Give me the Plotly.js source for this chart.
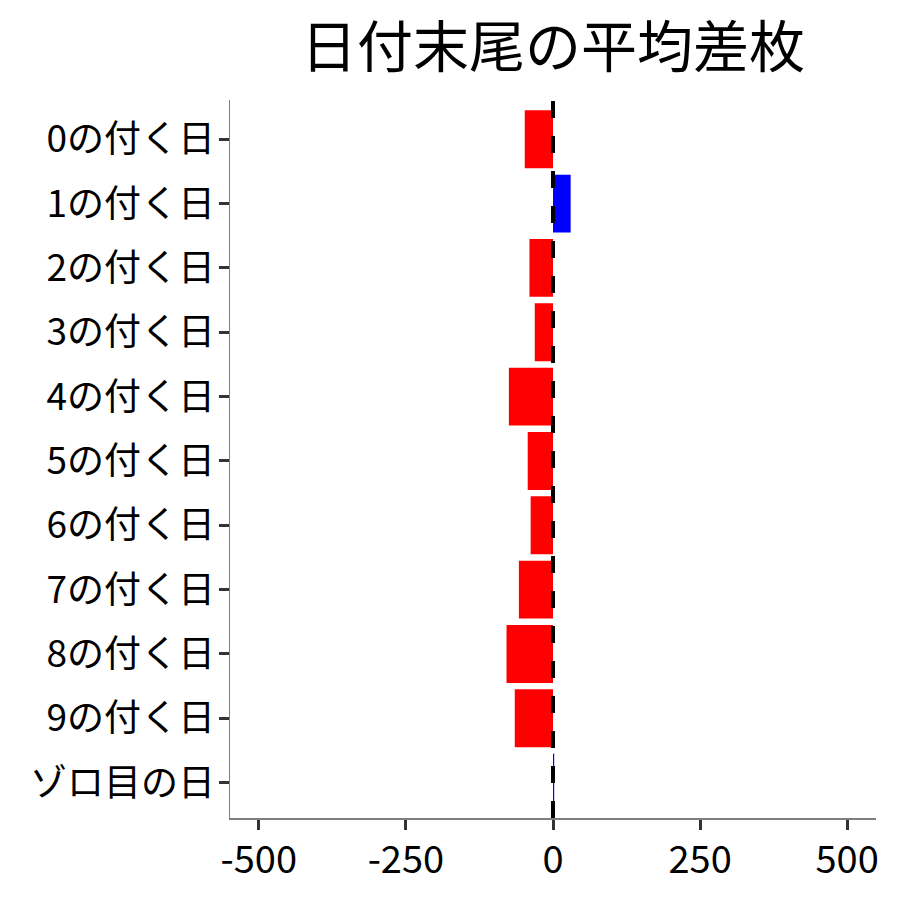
<!DOCTYPE html>
<html>
<head>
<meta charset="utf-8">
<script src="https://cdn.plot.ly/plotly-3.0.1.min.js"></script>
<style>html,body{margin:0;padding:0;background:#fff;}#chart{width:900px;height:900px;}</style>
</head>
<body>
<div id="chart"></div>
<script>
const categories = ["0の付く日","1の付く日","2の付く日","3の付く日","4の付く日","5の付く日","6の付く日","7の付く日","8の付く日","9の付く日","ゾロ目の日"];
const avgDiff = [-48, 30, -40, -31, -75, -43, -38, -58, -79, -65, 2];
const xTicks = [-500, -250, 0, 250, 500];

const colors = avgDiff.map(v => v >= 0 ? "#0000FF" : "#FF0000");
const FONT = '"Noto Sans CJK JP", "Noto Sans", sans-serif';

const data = [{
  type: "bar",
  orientation: "h",
  x: avgDiff,
  y: categories,
  width: 0.9,
  marker: {color: colors, line: {width: 0}},
  hoverinfo: "x+y"
}];

const layout = {
  width: 900, height: 900,
  margin: {l: 230, r: 24, t: 100, b: 82},
  paper_bgcolor: "#fff", plot_bgcolor: "#fff",
  font: {family: FONT, color: "#000"},
  showlegend: false,
  title: {
    text: "日付末尾の平均差枚",
    font: {family: FONT, size: 56, color: "#000"},
    xref: "paper", x: 0.5, xanchor: "center",
    yref: "container", y: 0.947, yanchor: "middle"
  },
  xaxis: {
    range: [-549, 549],
    tickvals: xTicks,
    ticktext: xTicks.map(String),
    showgrid: false, zeroline: false,
    showline: true, linecolor: "#7f7f7f", linewidth: 1.5,
    ticks: "outside", ticklen: 10, tickwidth: 3, tickcolor: "#333",
    ticklabelstandoff: -2,
    tickfont: {family: FONT, size: 38, color: "#000"}
  },
  yaxis: {
    type: "category",
    range: [10.55, -0.61],
    showgrid: false, zeroline: false,
    showline: true, linecolor: "#7f7f7f", linewidth: 1.5,
    ticks: "outside", ticklen: 10, tickwidth: 3, tickcolor: "#333",
    ticklabelstandoff: -4,
    tickfont: {family: FONT, size: 37, color: "#000"}
  },
  shapes: [{
    type: "line", xref: "x", yref: "paper",
    x0: 0, x1: 0, y0: 0, y1: 1,
    line: {color: "#000", width: 4, dash: "17px,18px"},
    layer: "above"
  }]
};

Plotly.newPlot("chart", data, layout, {displayModeBar: false, staticPlot: true});
</script>
</body>
</html>
